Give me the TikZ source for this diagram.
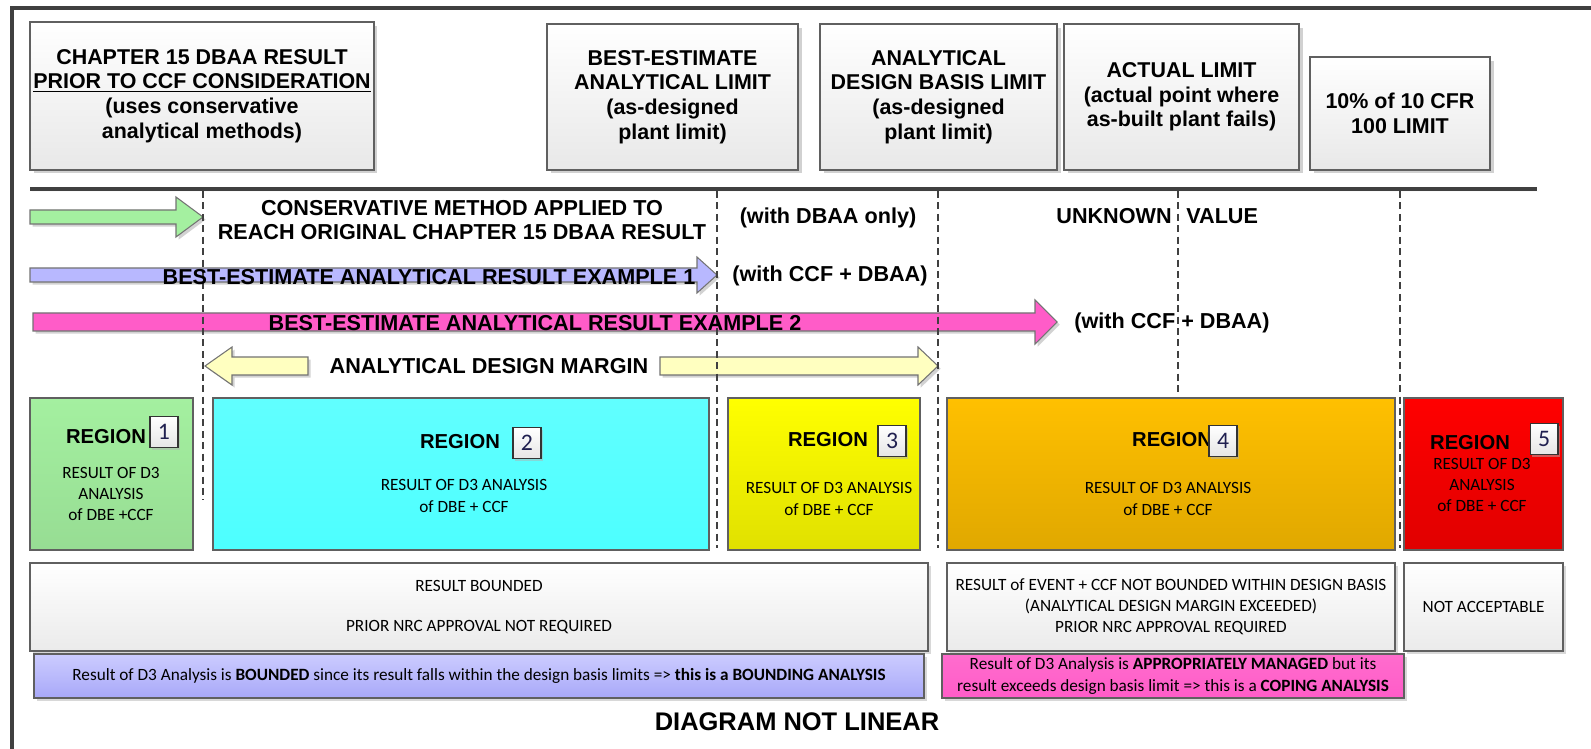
\documentclass[tikz,border=0pt]{standalone}
\usepackage{fontspec}
\setmainfont{Liberation Sans}
\newfontfamily\calib{Carlito}
\usetikzlibrary{shadows}
\definecolor{frameline}{HTML}{404040}
\definecolor{boxline}{HTML}{606060}
\definecolor{arrgreen}{HTML}{A4F0A0}
\definecolor{arrlav}{HTML}{B8B8FF}
\definecolor{arrpink}{HTML}{FF5CC8}
\definecolor{arryellow}{HTML}{FFFFC0}
\definecolor{numtxt}{HTML}{202050}
\definecolor{lavtop}{HTML}{CCCCFF}
\definecolor{lavbot}{HTML}{A8A8F8}
\newcommand{\hdfont}{\fontsize{12.2}{14}\selectfont\bfseries}
\newcommand{\arfont}{\fontsize{12.3}{13.2}\selectfont\bfseries}
\newcommand{\rgfont}{\fontsize{11.5}{13}\selectfont\bfseries}
\newcommand{\ntfont}{\calib\fontsize{9.8}{12}\selectfont}
\newcommand{\capfont}{\fontsize{14.5}{16}\selectfont\bfseries}
\tikzset{
  topbox/.style={draw=boxline, line width=0.9pt, top color=white, bottom color=black!9,
    inner sep=0pt, align=center, font=\hdfont,
    drop shadow={shadow xshift=2pt, shadow yshift=-2pt, fill=black!30, opacity=0.6}},
  blockarr/.style={draw=black!55, line width=0.6pt,
    drop shadow={shadow xshift=1.5pt, shadow yshift=-1.5pt, fill=black!35, opacity=0.5}},
  guide/.style={draw=black!75, line width=0.7pt, dash pattern=on 4pt off 2.5pt},
  lbl/.style={font=\arfont, align=center, inner sep=0pt},
  region/.style={draw=boxline, line width=0.8pt, inner sep=0pt},
  regtitle/.style={font=\rgfont, inner sep=0pt},
  body/.style={font=\ntfont, align=center, inner sep=0pt},
  numbox/.style={draw=black!80, line width=0.6pt, top color=white, bottom color=black!10,
    minimum width=0.56cm, minimum height=0.62cm, inner sep=0pt, text=numtxt,
    font=\calib\fontsize{13.5}{13.5}\selectfont,
    drop shadow={shadow xshift=1.2pt, shadow yshift=-1.2pt, fill=black!30, opacity=0.5}},
  outbox/.style={draw=boxline, line width=0.8pt, top color=white, bottom color=black!8,
    inner sep=0pt, align=center, font=\ntfont,
    drop shadow={shadow xshift=1.5pt, shadow yshift=-1.5pt, fill=black!30, opacity=0.5}},
}
\begin{document}
\begin{tikzpicture}[x=0.02cm,y=-0.02cm]
\useasboundingbox (0,0) rectangle (1591,749);
% frame
\draw[frameline, line width=2.3pt] (12,749) -- (12,8) -- (1591,8);
% limit boxes
\node[topbox, minimum width=6.88cm, minimum height=2.96cm] (chap) at (202,96)
  {CHAPTER 15 DBAA RESULT\\\underline{PRIOR TO CCF CONSIDERATION}\\(uses conservative\\analytical methods)};
\node[topbox, minimum width=5.02cm, minimum height=2.92cm] (belim) at (672.5,97)
  {BEST-ESTIMATE\\ANALYTICAL LIMIT\\(as-designed\\plant limit)};
\node[topbox, minimum width=4.74cm, minimum height=2.92cm] (dblim) at (938.5,97)
  {ANALYTICAL\\DESIGN BASIS LIMIT\\(as-designed\\plant limit)};
\node[topbox, minimum width=4.70cm, minimum height=2.92cm] (actlim) at (1181.5,97)
  {ACTUAL LIMIT\\(actual point where\\as-built plant fails)};
\node[topbox, minimum width=3.60cm, minimum height=2.26cm] (cfrlim) at (1400,113.5)
  {10\% of 10 CFR\\100 LIMIT};
\draw[frameline, line width=2.6pt,
  drop shadow={shadow xshift=1pt, shadow yshift=-1.5pt, fill=black!30, opacity=0.5}] (30,189) -- (1537,189);
% block arrows
\filldraw[blockarr, fill=arrgreen] (30,210) -- (176,210) -- (176,197) -- (203,217) -- (176,237) -- (176,224) -- (30,224) -- cycle;
\filldraw[blockarr, fill=arrlav] (30,268) -- (697,268) -- (697,257) -- (717,275) -- (697,293) -- (697,282) -- (30,282) -- cycle;
\filldraw[blockarr, fill=arrpink] (33,313) -- (1035,313) -- (1035,300) -- (1057,322) -- (1035,344) -- (1035,331) -- (33,331) -- cycle;
\filldraw[blockarr, fill=arryellow] (308,357) -- (232,357) -- (232,347) -- (205,366) -- (232,385) -- (232,375) -- (308,375) -- cycle;
\filldraw[blockarr, fill=arryellow] (660,357) -- (918,357) -- (918,347) -- (938,366) -- (918,385) -- (918,375) -- (660,375) -- cycle;
% limit guides
\draw[guide] (203,191) -- (203,500);
\draw[guide] (717,191) -- (717,548);
\draw[guide] (938,191) -- (938,548);
\draw[guide] (1178,191) -- (1178,395);
\draw[guide] (1400,191) -- (1400,548);
% arrow labels
\node[lbl] (cons) at (462,220)
  {CONSERVATIVE METHOD APPLIED TO\\REACH ORIGINAL CHAPTER 15 DBAA RESULT};
\node[lbl] (dbaaonly) at (828,218) {(with DBAA only)};
\node[lbl, anchor=east] (unkn) at (1172,216) {UNKNOWN};
\node[lbl, anchor=west] (unval) at (1186,216) {VALUE};
\node[lbl] (ex1) at (429,277) {BEST-ESTIMATE ANALYTICAL RESULT EXAMPLE 1};
\node[lbl] (ccf1) at (830,276) {(with CCF + DBAA)};
\node[lbl] (ex2) at (535,323) {BEST-ESTIMATE ANALYTICAL RESULT EXAMPLE 2};
\node[lbl] (ccf2) at (1172,323) {(with CCF + DBAA)};
\node[lbl] (margin) at (489,366) {ANALYTICAL DESIGN MARGIN};
% regions
\draw[region, top color=arrgreen, bottom color=arrgreen!92!black] (30,398) rectangle (193,550);
\draw[region, top color=cyan!62, bottom color=cyan!70] (213,398) rectangle (709,550);
\draw[region, top color=yellow, bottom color=yellow!88!black] (728,398) rectangle (920,550);
\draw[region, top color={rgb,255:red,255;green,192;blue,0}, bottom color={rgb,255:red,224;green,168;blue,0}] (947,398) rectangle (1395,550);
\draw[region, top color=red, bottom color=red!88!black] (1404,398) rectangle (1563,550);
\node[regtitle] (r1) at (106,437) {REGION};
\node[numbox] (n1) at (164,432) {1};
\node[body] (t1) at (111,494) {RESULT OF D3\\ANALYSIS\\of DBE +CCF};
\node[regtitle] (r2) at (460,442) {REGION};
\node[numbox] (n2) at (527,443) {2};
\node[body] (t2) at (464,496) {RESULT OF D3 ANALYSIS\\of DBE + CCF};
\node[regtitle] (r3) at (828,440) {REGION};
\node[numbox] (n3) at (892,441) {3};
\node[body] (t3) at (829,499) {RESULT OF D3 ANALYSIS\\of DBE + CCF};
\node[regtitle] (r4) at (1172,440) {REGION};
\node[numbox] (n4) at (1223,441) {4};
\node[body] (t4) at (1168,499) {RESULT OF D3 ANALYSIS\\of DBE + CCF};
\node[regtitle] (r5) at (1470,443) {REGION};
\node[numbox] (n5) at (1544,439) {5};
\node[body] (t5) at (1482,485) {RESULT OF D3\\ANALYSIS\\of DBE + CCF};
% outcomes
\node[outbox, minimum width=17.96cm, minimum height=1.76cm] (bounded) at (479,607)
  {RESULT BOUNDED\\[11pt]PRIOR NRC APPROVAL NOT REQUIRED};
\node[outbox, minimum width=8.96cm, minimum height=1.76cm] (notbounded) at (1171,607)
  {RESULT of EVENT + CCF NOT BOUNDED WITHIN DESIGN BASIS\\(ANALYTICAL DESIGN MARGIN EXCEEDED)\\PRIOR NRC APPROVAL REQUIRED};
\node[outbox, minimum width=3.18cm, minimum height=1.76cm] (notacc) at (1483.5,607) {NOT ACCEPTABLE};
\node[outbox, top color=lavtop, bottom color=lavbot,
  minimum width=17.8cm, minimum height=0.88cm] (bndnote) at (479,676)
  {Result of D3 Analysis is \textbf{BOUNDED} since its result falls within the design basis limits => \textbf{this is a BOUNDING ANALYSIS}};
\node[outbox, top color=arrpink!90, bottom color=arrpink, font=\calib\fontsize{9.8}{12.8}\selectfont,
  minimum width=9.24cm, minimum height=0.88cm] (copnote) at (1173,676)
  {Result of D3 Analysis is \textbf{APPROPRIATELY MANAGED} but its\\result exceeds design basis limit => this is a \textbf{COPING ANALYSIS}};
\node[font=\capfont, inner sep=0pt] (notlin) at (797,722) {DIAGRAM NOT LINEAR};
\end{tikzpicture}
\end{document}
